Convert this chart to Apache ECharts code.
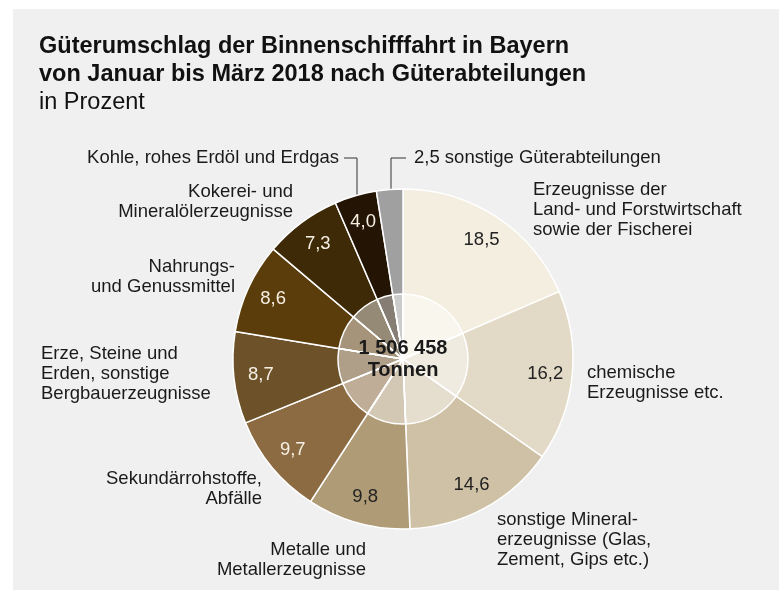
<!DOCTYPE html>
<html>
<head>
<meta charset="utf-8">
<script src="https://cdn.jsdelivr.net/npm/echarts@6/dist/echarts.min.js"></script>
<style>
  html, body { margin: 0; padding: 0; background: #ffffff; }
  #chart { width: 779px; height: 590px; }
</style>
</head>
<body>
<div id="chart"></div>
<script>
(function () {
    var categories = [
        'Erzeugnisse der\nLand- und Forstwirtschaft\nsowie der Fischerei',
        'chemische\nErzeugnisse etc.',
        'sonstige Mineral-\nerzeugnisse (Glas,\nZement, Gips etc.)',
        'Metalle und\nMetallerzeugnisse',
        'Sekundärrohstoffe,\nAbfälle',
        'Erze, Steine und\nErden, sonstige\nBergbauerzeugnisse',
        'Nahrungs-\nund Genussmittel',
        'Kokerei- und\nMineralölerzeugnisse',
        'Kohle, rohes Erdöl und Erdgas',
        'sonstige Güterabteilungen'
    ];
    var values = [18.5, 16.2, 14.6, 9.8, 9.7, 8.7, 8.6, 7.3, 4.0, 2.5];
    var colors = ['#f4eee0', '#e2dac6', '#cfc1a5', '#b09b77', '#8c6b43',
                  '#6d5129', '#5b3c0b', '#3e2a07', '#231403', '#a0a0a0'];
    var totalText = '1 506 458\nTonnen';

    var font = "'Liberation Sans', Arial, sans-serif";

    // where the category labels sit
    var labelSpots = [
        { x: 533, y: 210, align: 'left' },
        { x: 587, y: 383, align: 'left' },
        { x: 497, y: 540, align: 'left' },
        { x: 366, y: 560, align: 'right' },
        { x: 262, y: 489, align: 'right' },
        { x: 41,  y: 374, align: 'left' },
        { x: 235, y: 277, align: 'right' },
        { x: 293, y: 202, align: 'right' },
        { x: 339, y: 158, align: 'right', line: [[344, 158], [357, 158], [357, 195]] },
        { x: 414, y: 158, align: 'left',  line: [[406, 158], [391, 158], [391, 190]] }
    ];

    function fmt(v) {
        return v.toFixed(1).replace('.', ',');
    }

    function initial() {
        var myChart = echarts.init(document.getElementById('chart'));

        var mainData = categories.map(function (c, i) {
            return {
                name: c,
                value: values[i],
                itemStyle: { color: colors[i] },
                labelLine: { show: !!labelSpots[i].line }
            };
        });
        var overlayData = values.map(function (v, i) {
            return { name: categories[i], value: v };
        });
        var valueData = values.map(function (v, i) {
            var dark = i >= 4 && i <= 8;
            return {
                name: categories[i],
                value: v,
                label: { show: i !== 9, color: dark ? '#f6f0e4' : '#222222' }
            };
        });

        var option = {
            animation: false,
            graphic: [
                {
                    type: 'rect', z: -10,
                    shape: { x: 13, y: 9, width: 766, height: 581 },
                    style: { fill: '#f0f0f0' }
                },
                {
                    type: 'text', z: 100,
                    x: 403, y: 359,
                    style: {
                        text: totalText,
                        fontFamily: font, fontSize: 20, fontWeight: 'bold',
                        lineHeight: 22, fill: '#1a1a1a',
                        align: 'center', verticalAlign: 'middle'
                    }
                }
            ],
            title: {
                text: 'Güterumschlag der Binnenschifffahrt in Bayern\nvon Januar bis März 2018 nach Güterabteilungen',
                subtext: 'in Prozent',
                left: 39,
                top: 33,
                padding: 0,
                itemGap: 0,
                textStyle: { fontFamily: font, fontSize: 23.5, fontWeight: 'bold', lineHeight: 28, color: '#111111' },
                subtextStyle: { fontFamily: font, fontSize: 23.5, lineHeight: 27, color: '#111111' }
            },
            series: [
                {
                    type: 'pie',
                    center: [403, 359],
                    radius: [0, 170],
                    startAngle: 90,
                    silent: true,
                    itemStyle: { borderColor: '#ffffff', borderWidth: 1.5 },
                    label: {
                        show: true,
                        position: 'outside',
                        fontFamily: font,
                        fontSize: 18.5,
                        lineHeight: 20,
                        color: '#1a1a1a',
                        formatter: function (p) {
                            return p.dataIndex === 9 ? fmt(p.value) + ' ' + p.name : p.name;
                        }
                    },
                    labelLine: { lineStyle: { color: '#333333', width: 1 } },
                    labelLayout: function (p) {
                        var s = labelSpots[p.dataIndex];
                        var out = { x: s.x, y: s.y, align: s.align, verticalAlign: 'middle' };
                        if (s.line) out.labelLinePoints = s.line;
                        return out;
                    },
                    data: mainData
                },
                {
                    type: 'pie',
                    center: [403, 359],
                    radius: [0, 65],
                    startAngle: 90,
                    silent: true,
                    label: { show: false },
                    labelLine: { show: false },
                    itemStyle: { color: 'rgba(255,255,255,0.45)', borderColor: '#ffffff', borderWidth: 1.5 },
                    data: overlayData
                },
                {
                    type: 'pie',
                    center: [403, 359],
                    radius: [110, 170],
                    startAngle: 90,
                    silent: true,
                    itemStyle: { color: 'rgba(0,0,0,0)', borderWidth: 0 },
                    label: {
                        position: 'inside',
                        fontFamily: font,
                        fontSize: 18.5,
                        formatter: function (p) { return fmt(p.value); }
                    },
                    labelLine: { show: false },
                    data: valueData
                }
            ]
        };

        option && myChart.setOption(option);
    }

    initial();
})();
</script>
</body>
</html>
